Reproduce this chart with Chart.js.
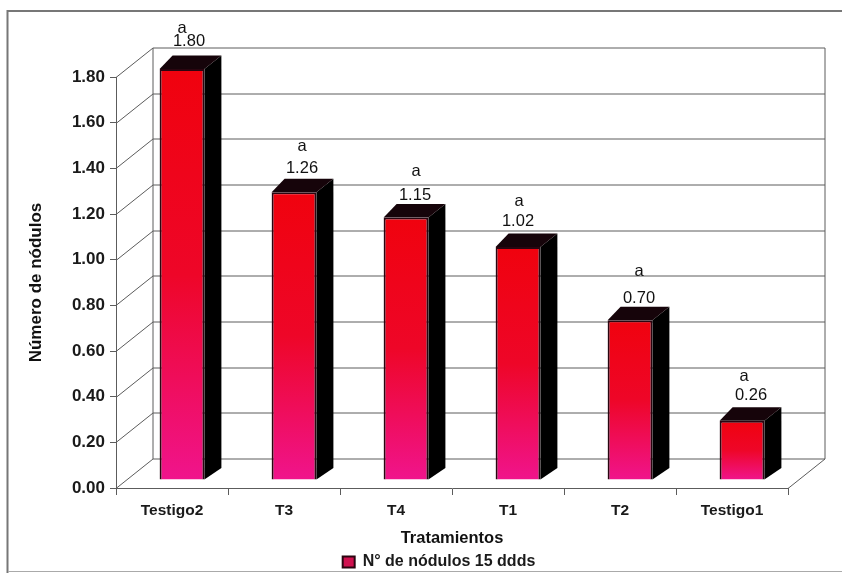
<!DOCTYPE html>
<html>
<head>
<meta charset="utf-8">
<script src="https://cdn.jsdelivr.net/npm/chart.js@4"></script>
<style>
  html, body { margin: 0; padding: 0; background: #fff; }
  #wrap { width: 842px; height: 573px; position: relative; }
</style>
</head>
<body>
<div id="wrap"><canvas id="chart" width="842" height="573"></canvas></div>
<script>
const categories = ["Testigo2", "T3", "T4", "T1", "T2", "Testigo1"];
const nodulos = [1.80, 1.26, 1.15, 1.02, 0.70, 0.26];
const letters = ["a", "a", "a", "a", "a", "a"];
const seriesName = "N° de nódulos 15 ddds";
const yTitle = "Número de nódulos";
const xTitle = "Tratamientos";

// label placement, the scan has them hand-placed above each bar
const valueLift = [28, 24, 22, 26, 22, 25];
const letterLift = [41, 46, 46, 46, 49, 44];
const valueShift = [8, 9, 10, 1, 10, 10];
const letterShift = [1, 9, 11, 2, 10, 3];

const FONT = '"Liberation Sans", Arial, sans-serif';
const LINE = "#5c5c5c";
// wall offset from the front axes, bars sit a bit inside the floor
const wallX = 37, wallY = 29.5;
const barX = 10, barY = -8;
const sideX = 17, sideY = 13.5;

const frame = {
  id: "frame",
  // legend sits under the middle of the page, not under the plot
  afterLayout(chart) {
    chart.legend.left += 45;
    chart.legend.right += 45;
    chart.legend.top += 7;
    chart.legend.bottom += 7;
  },
  beforeDraw(chart) {
    const c = chart.ctx;
    c.save();
    c.fillStyle = "#fff";
    c.fillRect(0, 0, chart.width, chart.height);
    c.strokeStyle = "#777";
    c.lineWidth = 2;
    c.beginPath();
    c.moveTo(7.5, 573);
    c.lineTo(7.5, 11);
    c.lineTo(842, 11);
    c.stroke();
    c.strokeStyle = "#aaa";
    c.lineWidth = 1;
    c.beginPath();
    c.moveTo(8, 571.5);
    c.lineTo(842, 571.5);
    c.stroke();
    c.restore();
  }
};

const walls = {
  id: "walls",
  beforeDatasetsDraw(chart) {
    const c = chart.ctx, x = chart.scales.x, y = chart.scales.y;
    const left = x.left, right = x.right;
    c.save();
    c.strokeStyle = LINE;
    c.lineWidth = 1;
    c.beginPath();
    y.ticks.forEach(t => {
      const py = Math.round(y.getPixelForValue(t.value)) + 0.5;
      c.moveTo(left, py);
      c.lineTo(left + wallX, py - wallY);
      c.lineTo(right + wallX, py - wallY);
    });
    const top = Math.round(y.getPixelForValue(y.max)) + 0.5;
    const bottom = Math.round(y.getPixelForValue(0)) + 0.5;
    c.moveTo(left + wallX, top - wallY);
    c.lineTo(left + wallX, bottom - wallY);
    c.moveTo(right + wallX, top - wallY);
    c.lineTo(right + wallX, bottom - wallY);
    c.lineTo(right, bottom);
    c.stroke();
    c.restore();
  },
  // bars are drawn shifted onto the floor, with their black sides behind them
  beforeDatasetDraw(chart, args) {
    const c = chart.ctx;
    c.save();
    c.translate(barX, barY);
    args.meta.data.forEach(bar => {
      const l = bar.x - bar.width / 2, r = bar.x + bar.width / 2;
      c.fillStyle = "#000";
      c.beginPath();
      c.moveTo(r, bar.y);
      c.lineTo(r + sideX, bar.y - sideY);
      c.lineTo(r + sideX, bar.base - sideY + 2);
      c.lineTo(r, bar.base);
      c.closePath();
      c.fill();
      c.fillStyle = "#16040a";
      c.beginPath();
      c.moveTo(l, bar.y);
      c.lineTo(l + sideX - 4, bar.y - sideY);
      c.lineTo(r + sideX, bar.y - sideY);
      c.lineTo(r, bar.y);
      c.closePath();
      c.fill();
    });
  },
  afterDatasetDraw(chart) {
    chart.ctx.restore();
  }
};

const barLabels = {
  id: "barLabels",
  afterDatasetsDraw(chart) {
    const c = chart.ctx;
    const bars = chart.getDatasetMeta(0).data;
    c.save();
    c.font = "16.5px " + FONT;
    c.fillStyle = "#111";
    c.textAlign = "center";
    c.textBaseline = "middle";
    bars.forEach((bar, i) => {
      const top = bar.y + barY;
      c.fillText(nodulos[i].toFixed(2), bar.x + barX + valueShift[i] - 1, top - valueLift[i]);
      c.fillText(letters[i], bar.x + barX + letterShift[i] - 1, top - letterLift[i]);
    });
    c.restore();
  }
};

function barFill(ctx) {
  const chart = ctx.chart;
  if (ctx.type !== "data" || !chart.scales.y) return "#e0105f";
  const y = chart.scales.y;
  const g = chart.ctx.createLinearGradient(0, y.getPixelForValue(ctx.parsed.y), 0, y.getPixelForValue(0));
  g.addColorStop(0, "#f0020e");
  g.addColorStop(0.5, "#ee0628");
  g.addColorStop(1, "#f0148c");
  return g;
}

new Chart(document.getElementById("chart"), {
  type: "bar",
  data: {
    labels: categories,
    datasets: [{
      label: seriesName,
      data: nodulos,
      backgroundColor: barFill,
      borderColor: "#2a0510",
      borderWidth: 2,
      categoryPercentage: 1,
      barPercentage: 0.4
    }]
  },
  options: {
    responsive: false,
    animation: false,
    layout: { padding: { left: 0, right: 54, top: 77, bottom: 0 } },
    plugins: {
      tooltip: { enabled: false },
      legend: {
        position: "bottom",
        labels: {
          color: "#1a1a1a",
          boxWidth: 12,
          boxHeight: 11,
          padding: 4,
          font: { family: FONT, size: 16, weight: "bold" },
          generateLabels: () => [{
            text: seriesName,
            fillStyle: "#d0104f",
            strokeStyle: "#2a0510",
            lineWidth: 2,
            fontColor: "#1a1a1a"
          }]
        }
      }
    },
    scales: {
      x: {
        afterFit(s) { s.height = 573 - 488 - s.chart.legend.height; },
        grid: { drawOnChartArea: false, tickLength: 7, color: LINE },
        border: { color: LINE },
        ticks: { color: "#1a1a1a", padding: 6, maxRotation: 0, font: { family: FONT, size: 15.5, weight: "bold" } },
        title: { display: true, text: xTitle, color: "#111", padding: { top: 5, bottom: -5 }, font: { family: FONT, size: 16.5, weight: "bold" } }
      },
      y: {
        min: 0,
        max: 1.8,
        afterFit(s) { s.width = 116; },
        grid: { drawOnChartArea: false, tickLength: 6, color: LINE },
        border: { color: LINE },
        ticks: {
          stepSize: 0.2,
          color: "#1a1a1a",
          padding: 5,
          font: { family: FONT, size: 17, weight: "bold" },
          callback: v => v.toFixed(2)
        },
        title: { display: true, text: yTitle, color: "#111", padding: { top: 26, bottom: 0 }, font: { family: FONT, size: 17, weight: "bold" } }
      }
    }
  },
  plugins: [frame, walls, barLabels]
});
</script>
</body>
</html>
